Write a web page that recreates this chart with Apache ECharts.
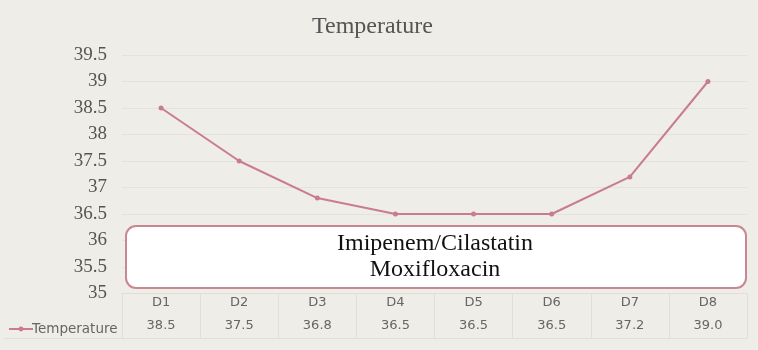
<!DOCTYPE html>
<html><head><meta charset="utf-8">
<script src="https://cdn.jsdelivr.net/npm/echarts@6/dist/echarts.min.js"></script>
<style>html,body{margin:0;padding:0;background:#eeede7;}#c{width:758px;height:350px;}</style>
</head><body><div id="c"></div>
<script>
var categories = ['D1','D2','D3','D4','D5','D6','D7','D8'];
var temperature = [38.5, 37.5, 36.8, 36.5, 36.5, 36.5, 37.2, 39.0];
var yMin = 35, yMax = 39.5, yStep = 0.5;
var drugs = ['Imipenem/Cilastatin', 'Moxifloxacin'];

var chart = echarts.init(document.getElementById('c'));
var lineColor = '#c97c8e';
var tableColor = '#dfded7';
chart.setOption({
  backgroundColor: '#eeede7',
  animation: false,
  title: {
    text: 'Temperature', left: 307, top: 10,
    textStyle: {fontFamily: 'Liberation Serif', fontSize: 24, fontWeight: 'normal', color: '#555'}
  },
  legend: {
    left: 3, top: 317, itemWidth: 24, itemHeight: 6, itemGap: 4,
    textStyle: {fontFamily: 'DejaVu Sans', fontSize: 13.5, color: '#666', padding: [0,0,0,-6]},
    data: ['Temperature']
  },
  grid: {left: 122, right: 11, top: 55, bottom: 56.5},
  xAxis: [{
    type: 'category', data: categories, position: 'bottom',
    axisLine: {show: true, lineStyle: {color: tableColor}},
    axisTick: {show: true, length: 45, lineStyle: {color: tableColor}},
    axisLabel: {margin: 3, fontFamily: 'DejaVu Sans', fontSize: 13, color: '#666'},
    splitLine: {show: false}
  }, {
    type: 'category', data: temperature.map(function(v){return v.toFixed(1);}), position: 'bottom', offset: 24,
    axisLine: {show: false}, axisTick: {show: false},
    axisLabel: {margin: 2, fontFamily: 'DejaVu Sans', fontSize: 13, color: '#666'}
  }, {
    type: 'category', data: categories, position: 'bottom', offset: 45,
    axisLine: {show: true, lineStyle: {color: tableColor}}, axisTick: {show: false},
    axisLabel: {show: false}
  }],
  yAxis: {
    type: 'value', min: yMin, max: yMax, interval: yStep,
    axisLine: {show: false}, axisTick: {show: false},
    axisLabel: {margin: 15, fontFamily: 'Liberation Serif', fontSize: 19, color: '#555'},
    splitLine: {lineStyle: {color: '#e3e2db', width: 1}}
  },
  series: [{
    name: 'Temperature', type: 'line', data: temperature,
    symbol: 'circle', symbolSize: 5,
    lineStyle: {color: lineColor, width: 2},
    itemStyle: {color: lineColor}
  }],
  graphic: [{
    type: 'line', z: 50, shape: {x1: 4, y1: 338.5, x2: 122, y2: 338.5},
    style: {stroke: tableColor, lineWidth: 1}
  }, {
    type: 'group', left: 125, top: 225, z: 100, children: [{
      type: 'rect', z: 100, shape: {x: 0, y: 0, width: 620, height: 62, r: 10},
      style: {fill: '#ffffff', stroke: '#c78892', lineWidth: 2}
    }, {
      type: 'text', z: 101, x: 309, y: 31,
      style: {text: drugs.join('\n'), fontFamily: 'Liberation Serif', fontSize: 24, lineHeight: 26,
        fill: '#111', align: 'center', verticalAlign: 'middle'}
    }]
  }]
});
</script></body></html>
